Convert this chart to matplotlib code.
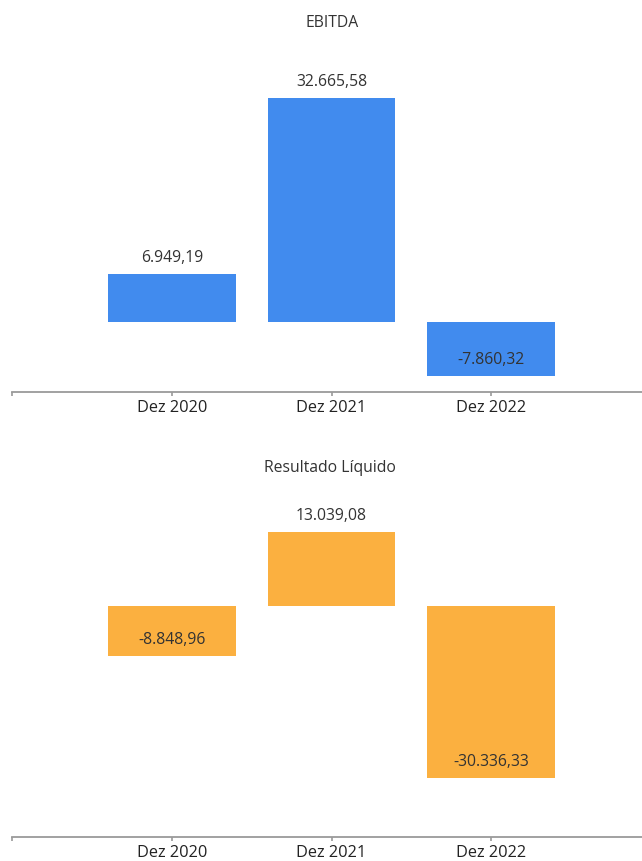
import matplotlib
matplotlib.use("Agg")
import matplotlib.pyplot as plt

plt.rcParams['font.family'] = ['Open Sans', 'DejaVu Sans']

periods = ['Dez 2020', 'Dez 2021', 'Dez 2022']
ebitda = [6949.19, 32665.58, -7860.32]
resultado = [-8848.96, 13039.08, -30336.33]

blue = '#418bee'
orange = '#fbb040'
txt = '#333333'
W, H = 642, 862


def fmt(v):
    s = f"{v:,.2f}"
    return s.replace(',', 'X').replace('.', ',').replace('X', '.')


def panel(ax, vals, color, ylim):
    x = list(range(len(vals)))
    bars = ax.bar(x, vals, width=0.8, color=color)
    ax.set_xlim(-1, 3)
    ax.set_ylim(*ylim)
    for s in ['top', 'right', 'left']:
        ax.spines[s].set_visible(False)
    ax.spines['bottom'].set_color('#9a9a9a')
    ax.spines['bottom'].set_linewidth(1.3)
    ax.set_yticks([])
    ax.set_xticks([-1] + x + [3])
    ax.set_xticklabels([''] + periods + [''], fontsize=11.8, color='#222222')
    ax.tick_params(axis='x', length=3, width=1.2, color='#9a9a9a', pad=2)
    for b, v in zip(bars, vals):
        # value label: above positive bars, inside the end of negative ones
        ax.annotate(fmt(v), (b.get_x() + b.get_width() / 2, v),
                    xytext=(0, 17), textcoords='offset pixels',
                    ha='center', va='center', fontsize=11.3, color=txt)


fig = plt.figure(figsize=(W / 100, H / 100), dpi=100)

ax1 = fig.add_axes([12 / W, 1 - 393 / H, 639 / W, 343 / H])
panel(ax1, ebitda, blue, (-10207, 39807))
fig.text(332 / W, 1 - 23 / H, 'EBITDA', ha='center', va='center',
         fontsize=11.3, color=txt)

ax2 = fig.add_axes([12 / W, 1 - 838 / H, 639 / W, 348 / H])
panel(ax2, resultado, orange, (-40705, 20617))
fig.text(330 / W, 1 - 468 / H, 'Resultado Líquido', ha='center', va='center',
         fontsize=11.3, color=txt)

fig.savefig('out.png', dpi=100)
